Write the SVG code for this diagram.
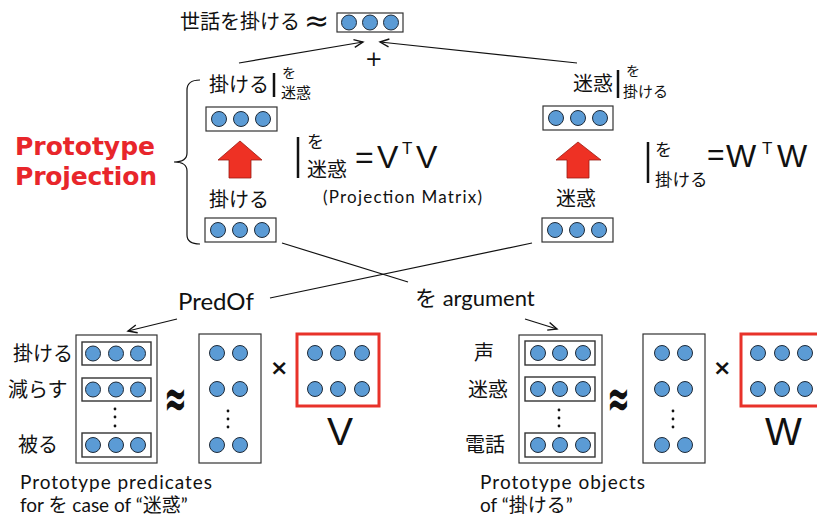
<svg xmlns="http://www.w3.org/2000/svg" width="817" height="524" viewBox="0 0 817 524">
<style>
.box{fill:#fff;stroke:#333;stroke-width:1.2}
.row{fill:#fff;stroke:#333;stroke-width:1.4}
.red{fill:#fff;stroke:#e8322a;stroke-width:3}
.c{fill:#5b9bd5;stroke:#1e2a38;stroke-width:1}
.jp{font-family:"Noto Sans CJK JP",sans-serif;fill:#111}
.lt{font-family:Lato,"Noto Sans CJK JP",sans-serif;fill:#111}
.big{font-family:"Liberation Sans",sans-serif;fill:#111}
.ln{stroke:#111;stroke-width:1.2;fill:none}
.bar{stroke:#111;stroke-width:2.5}
.arr{fill:#ee3124;stroke:#9a1a12;stroke-width:0.8}
.dot{fill:#111}
.sym{font-family:"DejaVu Sans",sans-serif;font-weight:bold;fill:#111}
</style>
<defs>
<marker id="ah" markerWidth="12" markerHeight="12" refX="10" refY="5" orient="auto" markerUnits="userSpaceOnUse">
<path d="M1,1 L10,5 L1,9" fill="none" stroke="#111" stroke-width="1.4"/>
</marker>
</defs>

<g id="top-vector">
<text class="jp" x="180" y="29" font-size="20">世話を掛ける</text>
<text x="304" y="31" font-size="30" font-family="DejaVu Sans" fill="#111">≈</text>
<rect class="box" x="337" y="13" width="66" height="19"/>
<circle class="c" cx="349" cy="22.5" r="7.5"/><circle class="c" cx="370" cy="22.5" r="7.5"/><circle class="c" cx="391" cy="22.5" r="7.5"/>
<text x="365" y="66" font-size="21" font-family="DejaVu Sans" fill="#111">+</text>
</g>

<g id="title">
<text x="15" y="155" font-family="DejaVu Sans" font-weight="bold" font-size="25" fill="#e8262b" textLength="140">Prototype</text>
<text x="15" y="185" font-family="DejaVu Sans" font-weight="bold" font-size="25" fill="#e8262b" textLength="142">Projection</text>
<path class="ln" d="M200,80 Q187,80 187,90 L187,153 Q187,162 174,162 Q187,162 187,171 L187,235 Q187,244 200,244"/>
</g>

<g id="left-projected">
<text class="jp" x="209" y="92" font-size="20">掛ける</text>
<line class="bar" x1="274" y1="73" x2="274" y2="97"/>
<text class="jp" x="282" y="78" font-size="14">を</text>
<text class="jp" x="281" y="98" font-size="15">迷惑</text>
<rect class="box" x="206" y="107" width="71" height="24"/>
<circle class="c" cx="219" cy="119" r="7.5"/><circle class="c" cx="241" cy="119" r="7.5"/><circle class="c" cx="263" cy="119" r="7.5"/>
</g>

<g id="left-arrow">
<path class="arr" d="M240,141 L262,160 L251,160 L251,178 L229,178 L229,160 L218,160 Z"/>
</g>

<g id="left-original">
<text class="jp" x="209" y="207" font-size="20">掛ける</text>
<rect class="box" x="205" y="218" width="71" height="24"/>
<circle class="c" cx="218" cy="230" r="7.5"/><circle class="c" cx="240" cy="230" r="7.5"/><circle class="c" cx="262" cy="230" r="7.5"/>
</g>

<g id="v-formula">
<line class="bar" x1="298" y1="137" x2="298" y2="178"/>
<text class="jp" x="307" y="148" font-size="17">を</text>
<text class="jp" x="307" y="177" font-size="20">迷惑</text>
<text class="big" x="355" y="168" font-size="32">=</text>
<text class="big" x="377" y="168" font-size="32">V</text>
<text class="big" x="402" y="154" font-size="17">T</text>
<text class="big" x="416" y="168" font-size="32">V</text>
<text class="lt" x="323" y="203" font-size="17" textLength="159">(Projection Matrix)</text>
</g>

<g id="right-projected">
<text class="jp" x="573" y="91" font-size="20">迷惑</text>
<line class="bar" x1="618" y1="70" x2="618" y2="98"/>
<text class="jp" x="626" y="76" font-size="14">を</text>
<text class="jp" x="623" y="97" font-size="15">掛ける</text>
<rect class="box" x="543" y="106" width="70" height="24"/>
<circle class="c" cx="556" cy="118" r="7.5"/><circle class="c" cx="578" cy="118" r="7.5"/><circle class="c" cx="600" cy="118" r="7.5"/>
</g>

<g id="right-arrow">
<path class="arr" d="M578,142 L601,160 L589,160 L589,178 L567,178 L567,160 L556,160 Z"/>
</g>

<g id="right-original">
<text class="jp" x="556" y="206" font-size="20">迷惑</text>
<rect class="box" x="542" y="218" width="71" height="24"/>
<circle class="c" cx="555" cy="230" r="7.5"/><circle class="c" cx="577" cy="230" r="7.5"/><circle class="c" cx="599" cy="230" r="7.5"/>
</g>

<g id="w-formula">
<line class="bar" x1="648" y1="142" x2="648" y2="183"/>
<text class="jp" x="655" y="156" font-size="17">を</text>
<text class="jp" x="655" y="186" font-size="17.5">掛ける</text>
<text class="big" x="707" y="165" font-size="30">=</text>
<text class="big" x="726" y="167" font-size="32" textLength="34">W</text>
<text class="big" x="762" y="154" font-size="17">T</text>
<text class="big" x="777" y="167" font-size="32" textLength="36">W</text>
</g>

<g id="connectors">
<line class="ln" x1="239" y1="63" x2="363" y2="42" marker-end="url(#ah)"/>
<line class="ln" x1="577" y1="63" x2="380" y2="42" marker-end="url(#ah)"/>
<line class="ln" x1="282" y1="243" x2="408" y2="282"/>
<line class="ln" x1="270" y1="298" x2="532" y2="243"/>
<line class="ln" x1="177" y1="319" x2="128" y2="331" marker-end="url(#ah)"/>
<line class="ln" x1="525" y1="319" x2="557" y2="329" marker-end="url(#ah)"/>
</g>

<g id="predof-label">
<text class="lt" x="178" y="310" font-size="24">PredOf</text>
</g>
<g id="argument-label">
<text class="lt" x="415" y="306" font-size="22">を argument</text>
</g>

<g id="pred-matrix">
<text class="jp" x="13" y="361" font-size="20">掛ける</text>
<text class="jp" x="8" y="397" font-size="20">減らす</text>
<text class="jp" x="18" y="452" font-size="20">被る</text>
<rect class="box" x="76" y="335" width="81" height="128"/>
<rect class="row" x="82" y="342" width="69" height="23"/>
<circle class="c" cx="93" cy="353.5" r="7.5"/><circle class="c" cx="116" cy="353.5" r="7.5"/><circle class="c" cx="138" cy="353.5" r="7.5"/>
<rect class="row" x="82" y="378" width="69" height="23"/>
<circle class="c" cx="93" cy="389.5" r="7.5"/><circle class="c" cx="116" cy="389.5" r="7.5"/><circle class="c" cx="138" cy="389.5" r="7.5"/>
<circle class="dot" cx="115" cy="409" r="1.4"/><circle class="dot" cx="115" cy="417" r="1.4"/><circle class="dot" cx="115" cy="426" r="1.4"/>
<rect class="row" x="82" y="433" width="69" height="24"/>
<circle class="c" cx="93" cy="445" r="7.5"/><circle class="c" cx="116" cy="445" r="7.5"/><circle class="c" cx="138" cy="445" r="7.5"/>
<text class="lt" x="20" y="489" font-size="19" textLength="192">Prototype predicates</text>
<text class="lt" x="20" y="512" font-size="19">for を case of “迷惑”</text>
</g>

<g id="pred-factor">
<text class="sym" x="0" y="0" font-size="34" transform="translate(164,417) scale(0.8,1.6)">≈</text>
<rect class="box" x="199" y="334" width="62" height="129"/>
<circle class="c" cx="217" cy="353" r="7.5"/><circle class="c" cx="240" cy="353" r="7.5"/>
<circle class="c" cx="217" cy="389" r="7.5"/><circle class="c" cx="240" cy="389" r="7.5"/>
<circle class="dot" cx="228" cy="411" r="1.4"/><circle class="dot" cx="228" cy="419" r="1.4"/><circle class="dot" cx="228" cy="427" r="1.4"/>
<circle class="c" cx="217" cy="445" r="7.5"/><circle class="c" cx="240" cy="445" r="7.5"/>
<text class="sym" x="270" y="375" font-size="22">×</text>
<rect class="red" x="297" y="334" width="82" height="72"/>
<circle class="c" cx="315" cy="353" r="7.5"/><circle class="c" cx="338" cy="353" r="7.5"/><circle class="c" cx="362" cy="353" r="7.5"/>
<circle class="c" cx="315" cy="389" r="7.5"/><circle class="c" cx="338" cy="389" r="7.5"/><circle class="c" cx="362" cy="389" r="7.5"/>
<text class="big" x="327" y="445" font-size="39">V</text>
</g>

<g id="obj-matrix">
<text class="jp" x="474" y="360" font-size="20">声</text>
<text class="jp" x="468" y="397" font-size="20">迷惑</text>
<text class="jp" x="465" y="452" font-size="20">電話</text>
<rect class="box" x="519" y="335" width="83" height="128"/>
<rect class="row" x="525" y="341" width="70" height="24"/>
<circle class="c" cx="538" cy="353" r="7.5"/><circle class="c" cx="560" cy="353" r="7.5"/><circle class="c" cx="583" cy="353" r="7.5"/>
<rect class="row" x="525" y="377" width="70" height="24"/>
<circle class="c" cx="538" cy="389" r="7.5"/><circle class="c" cx="560" cy="389" r="7.5"/><circle class="c" cx="583" cy="389" r="7.5"/>
<circle class="dot" cx="559" cy="410" r="1.4"/><circle class="dot" cx="559" cy="418" r="1.4"/><circle class="dot" cx="559" cy="426" r="1.4"/>
<rect class="row" x="525" y="433" width="70" height="24"/>
<circle class="c" cx="538" cy="445" r="7.5"/><circle class="c" cx="560" cy="445" r="7.5"/><circle class="c" cx="583" cy="445" r="7.5"/>
<text class="lt" x="480" y="489" font-size="19" textLength="165">Prototype objects</text>
<text class="lt" x="480" y="512" font-size="19">of “掛ける”</text>
</g>

<g id="obj-factor">
<text class="sym" x="0" y="0" font-size="34" transform="translate(607,417) scale(0.8,1.6)">≈</text>
<rect class="box" x="643" y="334" width="62" height="129"/>
<circle class="c" cx="662" cy="353" r="7.5"/><circle class="c" cx="685" cy="353" r="7.5"/>
<circle class="c" cx="662" cy="389" r="7.5"/><circle class="c" cx="685" cy="389" r="7.5"/>
<circle class="dot" cx="673" cy="411" r="1.4"/><circle class="dot" cx="673" cy="419" r="1.4"/><circle class="dot" cx="673" cy="427" r="1.4"/>
<circle class="c" cx="662" cy="445" r="7.5"/><circle class="c" cx="685" cy="445" r="7.5"/>
<text class="sym" x="713" y="375" font-size="22">×</text>
<rect class="red" x="741" y="334" width="82" height="72"/>
<circle class="c" cx="758" cy="353" r="7.5"/><circle class="c" cx="782" cy="353" r="7.5"/><circle class="c" cx="805" cy="353" r="7.5"/>
<circle class="c" cx="758" cy="389" r="7.5"/><circle class="c" cx="782" cy="389" r="7.5"/><circle class="c" cx="805" cy="389" r="7.5"/>
<text class="big" x="765" y="445" font-size="39" textLength="45">W</text>
</g>
</svg>
